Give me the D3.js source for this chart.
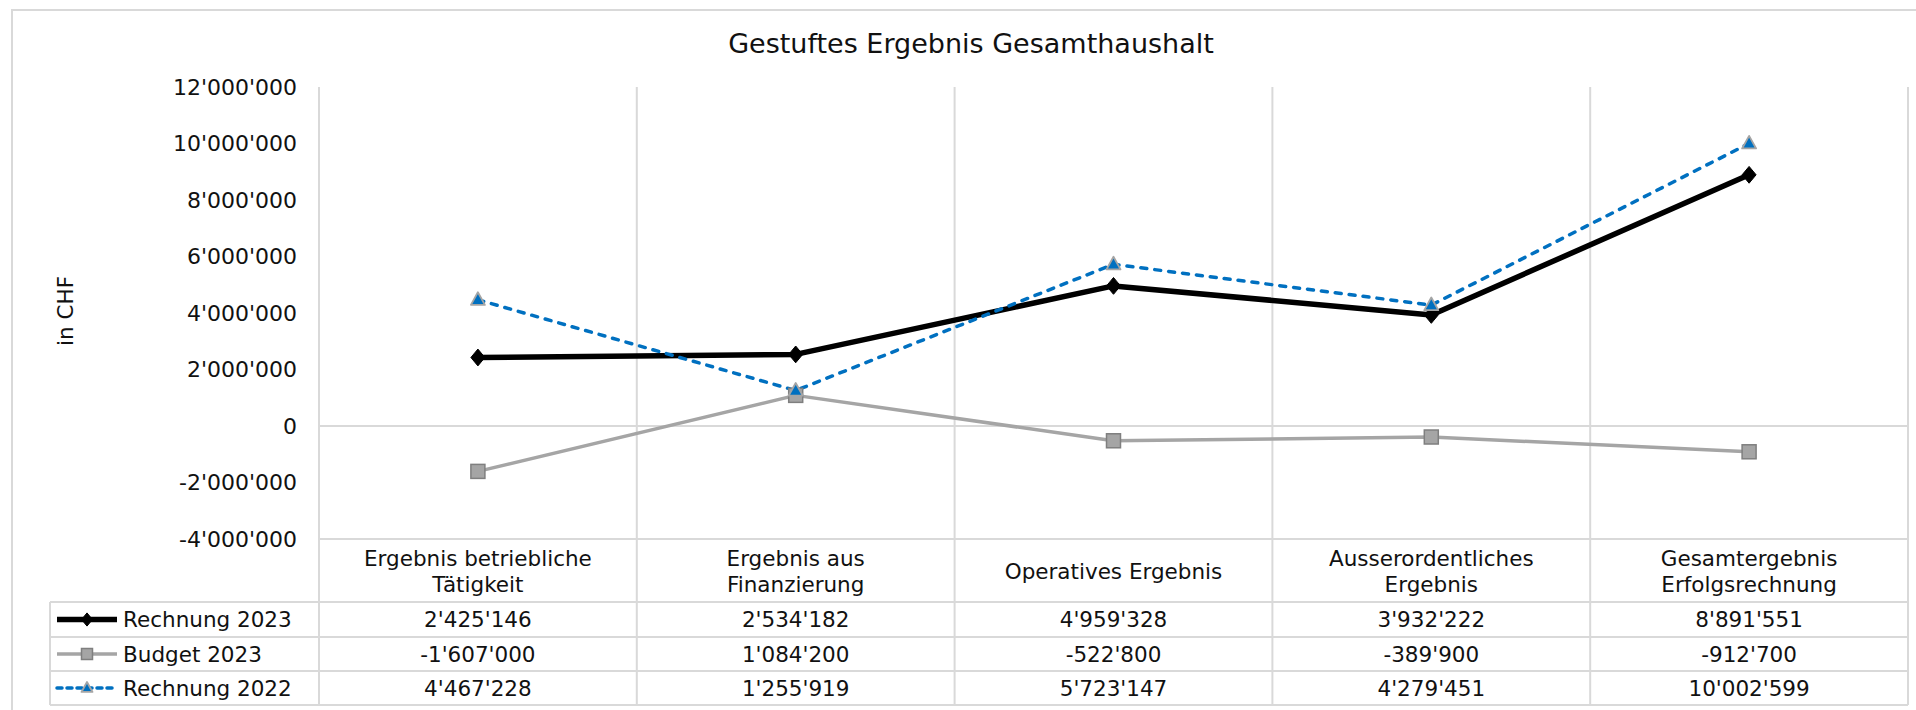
<!DOCTYPE html>
<html>
<head>
<meta charset="utf-8">
<script src="https://cdn.jsdelivr.net/npm/d3@7"></script>
<style>
  html, body { margin: 0; padding: 0; background: #fff; }
  svg { display: block; font-family: "DejaVu Sans", Verdana, sans-serif; }
</style>
</head>
<body>
<div id="chart"></div>
<script>
// ---- Data ----
const categories = [
  ["Ergebnis betriebliche", "Tätigkeit"],
  ["Ergebnis aus", "Finanzierung"],
  ["Operatives Ergebnis"],
  ["Ausserordentliches", "Ergebnis"],
  ["Gesamtergebnis", "Erfolgsrechnung"]
];
const seriesNames = ["Rechnung 2023", "Budget 2023", "Rechnung 2022"];
const rechnung2023 = [2425146, 2534182, 4959328, 3932222, 8891551];
const budget2023 = [-1607000, 1084200, -522800, -389900, -912700];
const rechnung2022 = [4467228, 1255919, 5723147, 4279451, 10002599];
const yTicks = [-4000000, -2000000, 0, 2000000, 4000000, 6000000, 8000000, 10000000, 12000000];
const title = "Gestuftes Ergebnis Gesamthaushalt";
const yTitle = "in CHF";

// ---- Layout ----
const W = 1916, H = 710;
const plot = { left: 319, right: 1908, top: 87, bottom: 539 };
const tableRows = [602, 637, 671, 705];   // horizontal rules of the legend/data rows
const legendLeft = 50;
const gridColor = "#d9d9d9";
const fontSize = 21.5;

const locale = d3.formatLocale({ decimal: ".", thousands: "'", grouping: [3], currency: ["", ""], minus: "-" });
const fmt = locale.format(",d");

const series = [
  { name: seriesNames[0], values: rechnung2023, color: "#000", width: 5.5, dash: null, marker: "diamond" },
  { name: seriesNames[1], values: budget2023, color: "#a5a5a5", width: 3.5, dash: null, marker: "square" },
  { name: seriesNames[2], values: rechnung2022, color: "#0070c0", width: 3.5, dash: "6,8", marker: "triangle" }
];

const svg = d3.select("#chart").append("svg")
  .attr("width", W).attr("height", H);

// outer frame (runs off the right and bottom edge)
svg.append("rect")
  .attr("x", 12).attr("y", 10).attr("width", 1930).attr("height", 720)
  .attr("fill", "#fff").attr("stroke", gridColor).attr("stroke-width", 2);

const x = d3.scaleBand().domain(d3.range(categories.length)).range([plot.left, plot.right]);
const y = d3.scaleLinear().domain([d3.min(yTicks), d3.max(yTicks)]).range([plot.bottom, plot.top]);
const cx = i => x(i) + x.bandwidth() / 2;

// title
svg.append("text")
  .attr("x", 971).attr("y", 53)
  .attr("text-anchor", "middle")
  .attr("font-size", 27).attr("fill", "#111")
  .text(title);

// axis title
svg.append("text")
  .attr("transform", `translate(73,${(y(2000000) + y(6000000)) / 2 - 2}) rotate(-90)`)
  .attr("text-anchor", "middle")
  .attr("font-size", fontSize).attr("fill", "#111")
  .text(yTitle);

// y axis (labels only)
const yAxis = d3.axisLeft(y).tickValues(yTicks).tickSize(0).tickPadding(0).tickFormat(fmt);
const gy = svg.append("g").attr("transform", `translate(297,0)`).call(yAxis);
gy.select(".domain").remove();
gy.selectAll("text").attr("font-size", 22).attr("fill", "#111").attr("font-family", "DejaVu Sans, sans-serif");

// grid: vertical category lines through plot and table
const grid = svg.append("g").attr("stroke", gridColor).attr("stroke-width", 2);
const edges = d3.range(categories.length + 1).map(i => i < categories.length ? x(i) : plot.right);
grid.selectAll("line.v").data(edges).join("line")
  .attr("class", "v")
  .attr("x1", d => d).attr("x2", d => d)
  .attr("y1", plot.top).attr("y2", tableRows[tableRows.length - 1]);
// zero line and plot bottom
grid.selectAll("line.h").data([0, d3.min(yTicks)]).join("line")
  .attr("class", "h")
  .attr("x1", plot.left).attr("x2", plot.right)
  .attr("y1", d => y(d)).attr("y2", d => y(d));
// table rows
grid.selectAll("line.t").data(tableRows).join("line")
  .attr("class", "t")
  .attr("x1", legendLeft).attr("x2", plot.right)
  .attr("y1", d => d).attr("y2", d => d);
grid.append("line")
  .attr("x1", legendLeft).attr("x2", legendLeft)
  .attr("y1", tableRows[0]).attr("y2", tableRows[tableRows.length - 1]);

// category headers
const hdr = svg.append("g").attr("font-size", fontSize).attr("fill", "#111").attr("text-anchor", "middle");
categories.forEach((lines, i) => {
  const mid = (plot.bottom + tableRows[0]) / 2 + 1;
  const lh = 26;
  lines.forEach((ln, j) => {
    hdr.append("text")
      .attr("x", cx(i))
      .attr("y", mid + (j - (lines.length - 1) / 2) * lh)
      .attr("dy", "0.36em")
      .text(ln);
  });
});

// markers
function marker(sel, type, size) {
  if (type === "diamond") {
    sel.append("path")
      .attr("d", `M0,${-size * 0.6}L${size * 0.5},0L0,${size * 0.6}L${-size * 0.5},0Z`)
      .attr("fill", "#000").attr("stroke", "#000").attr("stroke-width", 1);
  } else if (type === "square") {
    sel.append("rect")
      .attr("x", -size / 2).attr("y", -size / 2).attr("width", size).attr("height", size)
      .attr("fill", "#a5a5a5").attr("stroke", "#7f7f7f").attr("stroke-width", 1.5);
  } else {
    const h = size * 0.9;
    sel.append("path")
      .attr("d", `M0,${-h * 0.6}L${size / 2},${h * 0.4}L${-size / 2},${h * 0.4}Z`)
      .attr("fill", "#0070c0").attr("stroke", "#a5a5a5").attr("stroke-width", 1.8)
      .attr("stroke-linejoin", "round");
  }
}

// lines
const line = d3.line().x((d, i) => cx(i)).y(d => y(d));
const gLines = svg.append("g");
series.forEach(s => {
  gLines.append("path")
    .attr("d", line(s.values))
    .attr("fill", "none")
    .attr("stroke", s.color)
    .attr("stroke-width", s.width)
    .attr("stroke-dasharray", s.dash)
    .attr("stroke-linecap", s.dash ? "round" : "butt")
    .attr("stroke-linejoin", "round");
});
series.forEach(s => {
  s.values.forEach((v, i) => {
    const g = gLines.append("g").attr("transform", `translate(${cx(i)},${y(v)})`);
    marker(g, s.marker, 14);
  });
});

// legend keys + values table
series.forEach((s, r) => {
  const yc = (tableRows[r] + tableRows[r + 1]) / 2;
  const k = svg.append("g");
  k.append("line")
    .attr("x1", 57).attr("x2", 117).attr("y1", yc).attr("y2", yc)
    .attr("stroke", s.color).attr("stroke-width", s.width)
    .attr("stroke-dasharray", s.dash ? "5,5" : null)
    .attr("stroke-linecap", s.dash ? "round" : "butt");
  marker(k.append("g").attr("transform", `translate(87,${yc})`), s.marker, 11);
  svg.append("text")
    .attr("x", 123).attr("y", yc).attr("dy", "0.36em")
    .attr("font-size", fontSize).attr("fill", "#111")
    .text(s.name);
  svg.append("g").selectAll("text").data(s.values).join("text")
    .attr("x", (d, i) => cx(i)).attr("y", yc).attr("dy", "0.36em")
    .attr("text-anchor", "middle")
    .attr("font-size", fontSize).attr("fill", "#111")
    .text(d => fmt(d));
});
</script>
</body>
</html>
